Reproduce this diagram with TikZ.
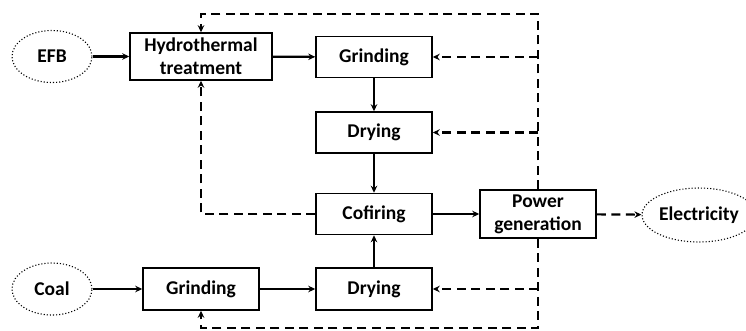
\documentclass[tikz,border=0pt]{standalone}
\usepackage{fontspec}
\setmainfont{Carlito}
\usetikzlibrary{arrows.meta,shapes.geometric}

\begin{document}
\begin{tikzpicture}[x=1pt,y=-1pt,
  font=\fontsize{19.5}{23}\selectfont\bfseries,
  stepbox/.style={draw,line width=1.5pt,minimum width=116pt,minimum height=41pt,inner sep=1pt,align=center},
  endpoint/.style={ellipse,draw,dotted,line width=1.1pt,minimum width=80pt,minimum height=52pt,inner sep=0pt},
  flow/.style={line width=2.2pt,-{Stealth[length=7pt,width=6.5pt]}},
  heat/.style={line width=2.2pt,dash pattern=on 9pt off 5.5pt,-{Stealth[length=7pt,width=6.5pt]}}]
\useasboundingbox (0,0) rectangle (746,330);

% biomass line
\node[endpoint] (efb) at (52,56.5) {EFB};
\node[stepbox,minimum width=142pt,minimum height=47pt] (hydro) at (201,56.5) {Hydrothermal\\treatment};
\node[stepbox] (grindA) at (374,57) {Grinding};
\node[stepbox] (dryA) at (374,132.5) {Drying};

\node[stepbox] (cofire) at (374,214) {Cofiring};
\node[stepbox,minimum height=48pt] (power) at (538,214) {Power\\generation};
\node[endpoint,minimum width=114pt,minimum height=54pt] (elec) at (699,215) {Electricity};

% coal line
\node[endpoint] (coal) at (52,289) {Coal};
\node[stepbox,minimum height=42pt] (grindB) at (201,289) {Grinding};
\node[stepbox,minimum height=42pt] (dryB) at (374,289) {Drying};

\coordinate (top) at (538,14);
\coordinate (bottom) at (538,328);

\draw[flow] (efb) -- (hydro);
\draw[flow] (hydro) -- (grindA);
\draw[flow] (grindA) -- (dryA);
\draw[flow] (dryA) -- (cofire);
\draw[flow] (coal) -- (grindB);
\draw[flow] (grindB) -- (dryB);
\draw[flow] (dryB) -- (cofire);
\draw[flow] (cofire) -- (power);

% heat from power generation
\draw[heat] (power.north) -- (top) -| (hydro.north);
\draw[heat] (power.south) -- (bottom) -| (grindB.south);
\draw[heat] (top |- grindA.east) -- (grindA.east);
\draw[heat] (top |- dryA.east) -- (dryA.east);
\draw[heat] (top |- dryB.east) -- (dryB.east);
\draw[heat] (cofire.west) -| (hydro.south);
\draw[heat] (power) -- (elec);
\end{tikzpicture}
\end{document}
